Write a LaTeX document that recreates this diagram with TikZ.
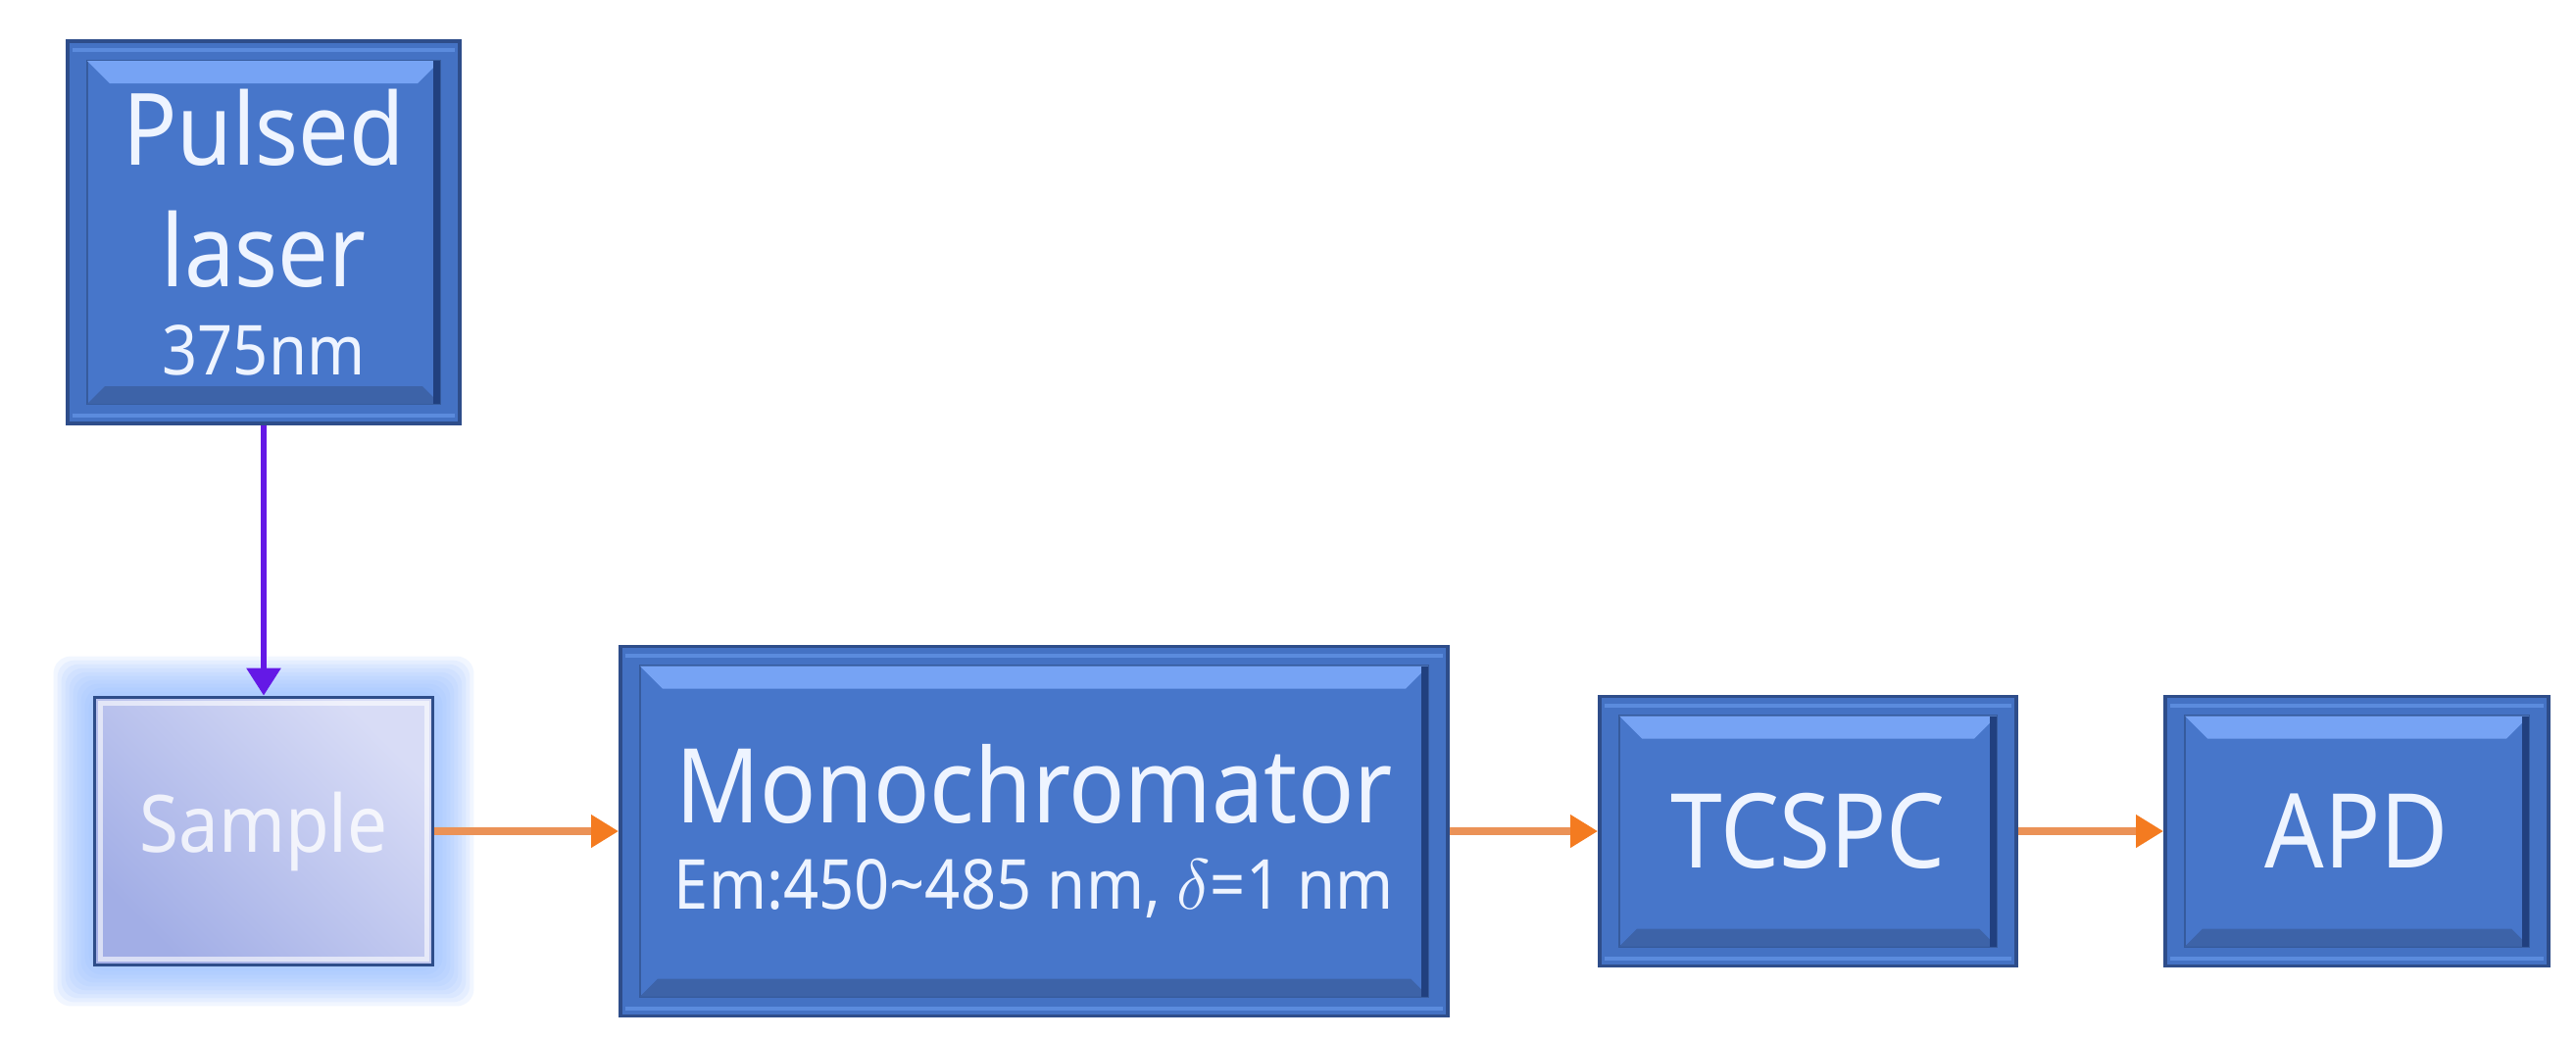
\documentclass[tikz,border=0pt]{standalone}
\usepackage{fontspec}
\setmainfont{Noto Sans}[FakeStretch=0.9]
\usetikzlibrary{arrows.meta, backgrounds}

% Couleurs
\definecolor{bleu}{HTML}{4472C4}
\definecolor{bordure}{HTML}{2E4D8A}
\definecolor{bleuint}{HTML}{4776CA}
\definecolor{bleuclair}{HTML}{76A3F4}
\definecolor{bleuliseret}{HTML}{5B8BDD}
\definecolor{bleubas}{HTML}{3D63A8}
\definecolor{bleusombre}{HTML}{21407F}
\definecolor{texte}{HTML}{EEF4FF}
\definecolor{halo}{HTML}{97BFFF}
\definecolor{echhaut}{HTML}{D8DCF6}
\definecolor{echbas}{HTML}{A2AEE6}
\definecolor{laserviolet}{HTML}{6419E6}
\definecolor{fluo}{HTML}{EB9257}
\definecolor{fluovif}{HTML}{F47B20}

% Biseau des boites
\newcommand{\biseau}[1]{%
  \fill[bleuliseret] ([shift={(0.05,-0.07)}]#1.north west) rectangle ([shift={(-0.05,-0.11)}]#1.north east);
  \fill[bleuliseret] ([shift={(0.05,0.06)}]#1.south west) rectangle ([shift={(-0.05,0.10)}]#1.south east);
  \filldraw[fill=bleuint, draw=bleu!80!black, line width=0.6pt] ([shift={(0.2,-0.2)}]#1.north west) rectangle ([shift={(-0.2,0.2)}]#1.south east);
  \fill[bleuclair] ([shift={(0.2,-0.2)}]#1.north west) -- ([shift={(-0.2,-0.2)}]#1.north east) -- ([shift={(-0.43,-0.43)}]#1.north east) -- ([shift={(0.43,-0.43)}]#1.north west) -- cycle;
  \fill[bleubas] ([shift={(0.2,0.2)}]#1.south west) -- ([shift={(-0.2,0.2)}]#1.south east) -- ([shift={(-0.38,0.38)}]#1.south east) -- ([shift={(0.38,0.38)}]#1.south west) -- cycle;
  \fill[bleusombre] ([shift={(-0.27,-0.2)}]#1.north east) rectangle ([shift={(-0.2,0.2)}]#1.south east);
}

\begin{document}
\begin{tikzpicture}[
    boite/.style={draw=bordure, line width=1.1pt, fill=bleu, text=texte, align=center, inner sep=0pt,
      path picture={\biseau{path picture bounding box}}},
    echantillon/.style={draw=bordure, line width=1.1pt, top color=echhaut, bottom color=echbas, shading angle=-45,
      text=white, text opacity=.8, align=center, inner sep=0pt,
      path picture={\draw[white, opacity=.6, line width=1.2pt] ([shift={(0.06,-0.06)}]path picture bounding box.north west) rectangle ([shift={(-0.06,0.06)}]path picture bounding box.south east);}},
    rayon/.style={draw=laserviolet, line width=1.7pt, -{Triangle[length=0.28cm, width=0.34cm]}},
    signal/.style={draw=fluo, line width=2.5pt, -{Triangle[length=0.28cm, width=0.32cm, color=fluovif, fill=fluovif]}}
  ]
    \useasboundingbox (0,0) rectangle (26.28,-10.59);
    % Boites
    \node[boite, minimum width=4cm, minimum height=3.9cm, font=\fontsize{29}{35.5}\selectfont] (laser) at (2.69,-2.37)
      {Pulsed\\laser\\[-10pt]{\fontsize{20}{24}\selectfont 375nm}};
    \node[echantillon, minimum width=3.45cm, minimum height=2.73cm, font=\fontsize{23}{28}\selectfont] (sample) at (2.69,-8.48) {Sample};
    \node[boite, minimum width=8.44cm, minimum height=3.77cm, font=\fontsize{30}{36}\selectfont] (mono) at (10.55,-8.48)
      {Monochromator\\[-11pt]{\fontsize{20}{24}\selectfont Em:450\textasciitilde485 nm, $\delta$=1 nm}};
    \node[boite, minimum width=4.25cm, minimum height=2.75cm, font=\fontsize{30}{36}\selectfont] (tcspc) at (18.445,-8.48) {TCSPC};
    \node[boite, minimum width=3.91cm, minimum height=2.75cm, font=\fontsize{30}{36}\selectfont] (apd) at (24.045,-8.48) {APD};
    % Fond et halo autour de l'echantillon
    \begin{scope}[on background layer]
      \fill[white] (0,0) rectangle (26.28,-10.59);
      \foreach \g in {1,...,10}
        \fill[halo, opacity=0.13, rounded corners=5pt] ([shift={(-\g*0.04,\g*0.04)}]sample.north west) rectangle ([shift={(\g*0.04,-\g*0.04)}]sample.south east);
    \end{scope}
    % Fleches
    \draw[rayon] (laser) -- (sample);
    \draw[signal] (sample) -- (mono);
    \draw[signal] (mono) -- (tcspc);
    \draw[signal] (tcspc) -- (apd);
\end{tikzpicture}
\end{document}
